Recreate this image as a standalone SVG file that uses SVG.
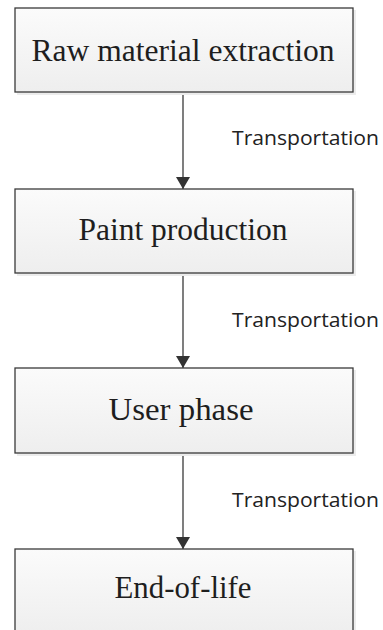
<svg xmlns="http://www.w3.org/2000/svg" width="383" height="630" viewBox="0 0 383 630">
<style>
.box{fill:url(#g);stroke:#3a3a3a;stroke-width:1.3}
.shadow{fill:#ececec}
.t{font-family:"Liberation Serif","Times New Roman",serif;font-size:32px;fill:#1e1e1e;text-anchor:middle}
.lbl{font-family:"Open Sans","Liberation Sans",sans-serif;font-size:20px;fill:#222}
.conn{stroke:#3a3a3a;stroke-width:1.3;fill:none}
</style>
<defs>
<linearGradient id="g" x1="0" y1="0" x2="0" y2="1">
<stop offset="0" stop-color="#fbfbfb"/>
<stop offset="1" stop-color="#eeeeee"/>
</linearGradient>
<marker id="arr" markerWidth="12" markerHeight="14" refX="12" refY="7" orient="auto" markerUnits="userSpaceOnUse" viewBox="0 0 12 14">
<path d="M0,0 L12,7 L0,14 Z" fill="#333"/>
</marker>
</defs>
<rect width="383" height="630" fill="#fff"/>
<g id="connectors">
<line class="conn" x1="183" y1="92" x2="183" y2="189" marker-end="url(#arr)"/>
<line class="conn" x1="183" y1="273" x2="183" y2="368" marker-end="url(#arr)"/>
<line class="conn" x1="183" y1="453" x2="183" y2="549" marker-end="url(#arr)"/>
<text class="lbl" x="232" y="145" textLength="147" lengthAdjust="spacingAndGlyphs">Transportation</text>
<text class="lbl" x="232" y="327" textLength="147" lengthAdjust="spacingAndGlyphs">Transportation</text>
<text class="lbl" x="232" y="507" textLength="147" lengthAdjust="spacingAndGlyphs">Transportation</text>
</g>
<g id="node1">
<rect class="shadow" x="17" y="10" width="339" height="85"/>
<rect class="box" x="15" y="8" width="338" height="84"/>
<text class="t" x="183" y="61" textLength="303" lengthAdjust="spacingAndGlyphs">Raw material extraction</text>
</g>
<g id="node2">
<rect class="shadow" x="17" y="191" width="339" height="85"/>
<rect class="box" x="15" y="189" width="338" height="84"/>
<text class="t" x="183" y="240" textLength="209" lengthAdjust="spacingAndGlyphs">Paint production</text>
</g>
<g id="node3">
<rect class="shadow" x="17" y="370" width="339" height="86"/>
<rect class="box" x="15" y="368" width="338" height="85"/>
<text class="t" x="181" y="420" textLength="145" lengthAdjust="spacingAndGlyphs">User phase</text>
</g>
<g id="node4">
<rect class="shadow" x="17" y="551" width="339" height="86"/>
<rect class="box" x="15" y="549" width="338" height="85"/>
<text class="t" x="183" y="598" textLength="137" lengthAdjust="spacingAndGlyphs">End-of-life</text>
</g>
</svg>
